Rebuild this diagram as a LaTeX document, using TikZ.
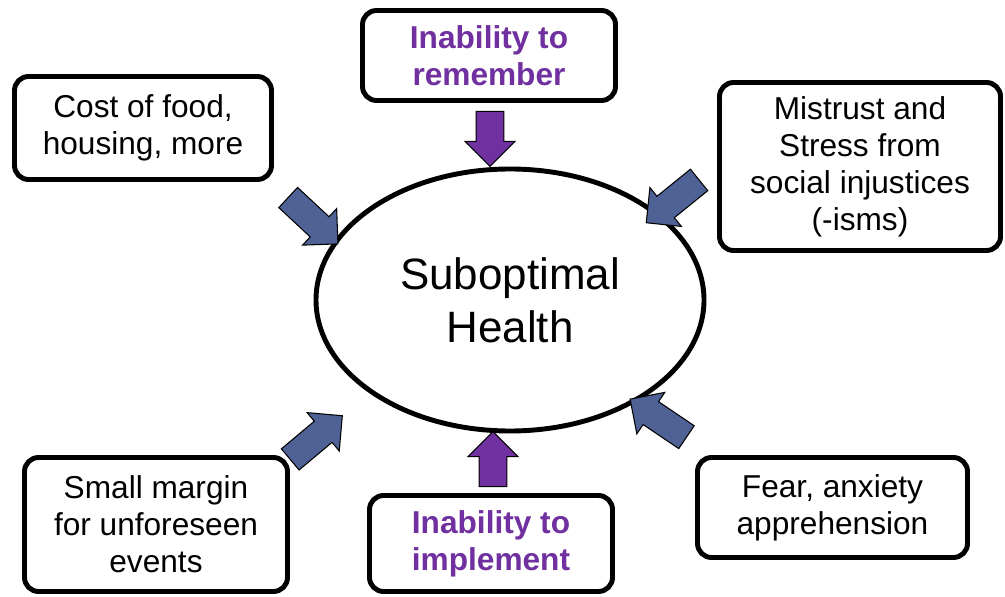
\documentclass[tikz,border=0pt]{standalone}
\usepackage{fontspec}
\setmainfont{Liberation Sans}
\usetikzlibrary{arrows.meta, positioning, shapes.geometric, shapes.arrows}
\definecolor{textMain}{RGB}{0, 0, 0}
\definecolor{accentPurple}{RGB}{112, 48, 160}
\definecolor{arrowBlue}{RGB}{79, 98, 150}

\begin{document}
\begin{tikzpicture}[
    causeNode/.style={rectangle, draw=black, text=textMain, fill=white, rounded corners=8pt, line width=2.8pt, align=center, font=\fontsize{18}{21}\selectfont},
    purpleNode/.style={causeNode, text=accentPurple, font=\fontsize{18}{21}\selectfont\bfseries},
    healthNode/.style={ellipse, draw=black, line width=2.8pt, align=center, minimum width=7.76cm, minimum height=5.24cm, font=\fontsize{25}{30}\selectfont},
    pushArrow/.style={single arrow, draw=black, line width=0.6pt, fill=arrowBlue, minimum height=1.36cm, minimum width=1.0cm, inner sep=0.26cm, single arrow head extend=0.22cm},
    purpleArrow/.style={pushArrow, fill=accentPurple, minimum height=1.1cm}
  ]
    \useasboundingbox (0,0) rectangle (20.1,11.92);

    % Centre
    \node[healthNode] (health) at (10.2,5.92) {Suboptimal\\Health};

    % Surrounding causes
    \node[purpleNode, minimum width=5.06cm, minimum height=1.8cm] (remember) at (9.78,10.81) {Inability to\\remember};
    \node[causeNode, minimum width=5.14cm, minimum height=2.06cm] (cost) at (2.86,9.36) {Cost of food,\\housing, more};
    \node[causeNode, minimum width=5.62cm, minimum height=3.36cm] (mistrust) at (17.2,8.59) {Mistrust and\\Stress from\\social injustices\\(-isms)};
    \node[causeNode, minimum width=5.26cm, minimum height=2.68cm] (margin) at (3.12,1.43) {Small margin\\for unforeseen\\events};
    \node[purpleNode, minimum width=4.86cm, minimum height=1.92cm] (implement) at (9.82,1.05) {Inability to\\implement};
    \node[causeNode, minimum width=5.4cm, minimum height=2.0cm] (fear) at (16.65,1.77) {Fear, anxiety\\apprehension};

    % Block arrows towards the centre
    \node[purpleArrow, rotate=-90] (arrRemember) at (9.8,9.28) {};
    \node[purpleArrow, rotate=90] (arrImplement) at (9.86,2.6) {};
    \node[pushArrow, rotate=-43] (arrCost) at (6.16,7.6) {};
    \node[pushArrow, rotate=-141] (arrMistrust) at (13.56,7.98) {};
    \node[pushArrow, rotate=40] (arrMargin) at (6.22,3.08) {};
    \node[pushArrow, rotate=146] (arrFear) at (13.28,3.48) {};
  \end{tikzpicture}
\end{document}
